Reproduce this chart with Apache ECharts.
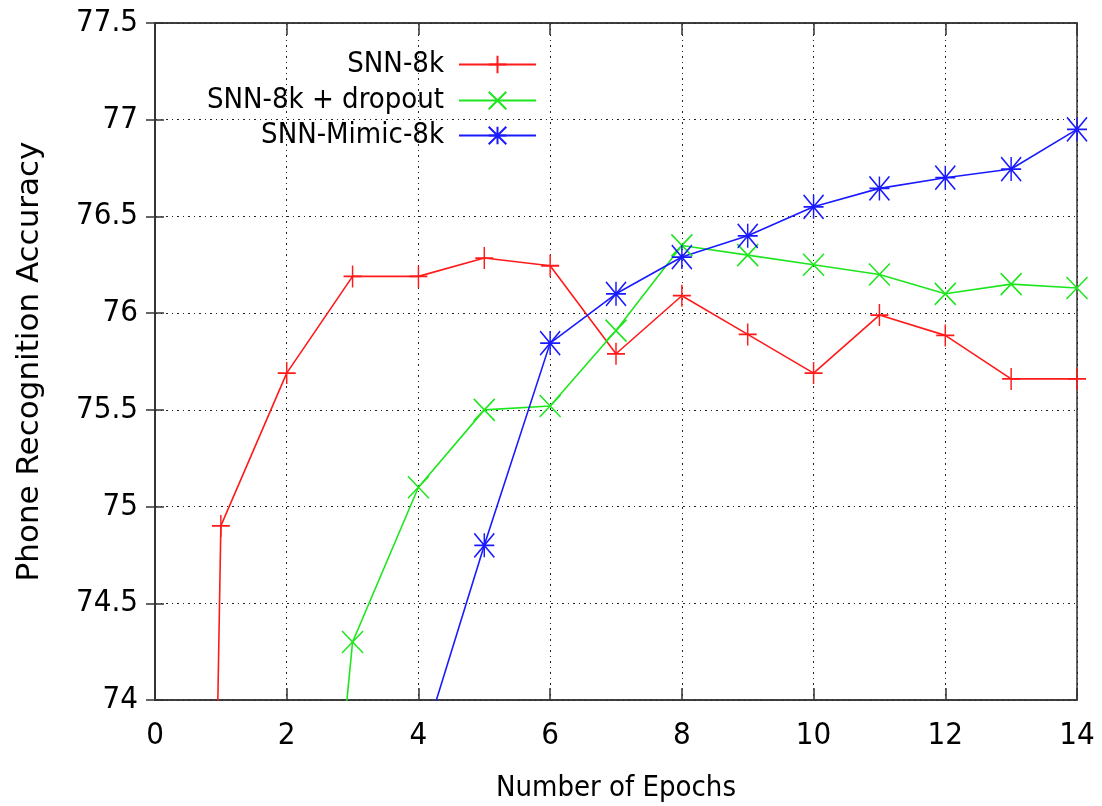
<!DOCTYPE html>
<html>
<head>
<meta charset="utf-8">
<script src="https://cdn.jsdelivr.net/npm/echarts@6/dist/echarts.min.js"></script>
<style>
  html, body { margin: 0; padding: 0; background: #fff; }
  #chart { width: 1102px; height: 806px; }
</style>
</head>
<body>
<div id="chart"></div>
<script>
// epochs on x, accuracy on y
var epochs = [0, 1, 2, 3, 4, 5, 6, 7, 8, 9, 10, 11, 12, 13, 14];
var snn8k = [55.2, 74.9, 75.69, 76.19, 76.19, 76.285, 76.245, 75.79, 76.09, 75.89, 75.69, 75.99, 75.885, 75.66, 75.66];
// dropout run starts at epoch 2, mimic at epoch 4
var dropoutEpochs = [2, 3, 4, 5, 6, 7, 8, 9, 10, 11, 12, 13, 14];
var snn8kDropout = [70.8, 74.3, 75.1, 75.5, 75.52, 75.91, 76.35, 76.3, 76.25, 76.2, 76.1, 76.15, 76.13];
var mimicEpochs = [4, 5, 6, 7, 8, 9, 10, 11, 12, 13, 14];
var snnMimic8k = [73.7, 74.8, 75.845, 76.1, 76.29, 76.4, 76.55, 76.645, 76.7, 76.745, 76.95];
var seriesNames = ['SNN-8k', 'SNN-8k + dropout', 'SNN-Mimic-8k'];

var narrow = '"Liberation Sans Narrow", "DejaVu Sans Condensed", "Liberation Sans", sans-serif';

function pairs(xs, ys) {
    return xs.map(function (x, i) { return [x, ys[i]]; });
}

// gnuplot style point shapes
var plus = 'path://M5,0L5,10M0,5L10,5';
var cross = 'path://M0,0L10,10M10,0L0,10';
var star = 'path://M5,0L5,10M0,5L10,5M0,0L10,10M10,0L0,10';

function makeSeries(name, data, color, symbol, size) {
    return {
        name: name,
        type: 'line',
        data: data,
        symbol: symbol,
        symbolSize: size,
        showSymbol: true,
        clip: true,
        lineStyle: { color: color, width: 1.6 },
        itemStyle: { color: color, borderColor: color, borderWidth: 1.6 },
        emphasis: { disabled: true },
        xAxisIndex: 0,
        yAxisIndex: 0
    };
}

function legendRow(name, top) {
    return {
        data: [name],
        right: 560,
        top: top,
        align: 'right',
        itemWidth: 77,
        itemHeight: 22,
        selectedMode: false,
        textStyle: { fontFamily: narrow, fontSize: 29, color: '#000', padding: [0, 10, 0, 0] }
    };
}

var gridLine = { show: true, lineStyle: { color: '#222', type: [2, 4, 1, 4], width: 1 } };

var myChart = echarts.init(document.getElementById('chart'));

var option = {
    animation: false,
    backgroundColor: '#fff',
    grid: {
        left: 155, right: 25, top: 23, bottom: 106,
        outerBoundsMode: 'none',
        show: true, borderColor: '#333', borderWidth: 1.5
    },
    legend: [
        legendRow(seriesNames[0], 45),
        legendRow(seriesNames[1], 81),
        legendRow(seriesNames[2], 116)
    ],
    xAxis: [{
        type: 'value',
        min: 0, max: 14, interval: 2,
        name: 'Number of Epochs',
        nameLocation: 'middle',
        nameGap: 74,
        nameTextStyle: { fontFamily: narrow, fontSize: 29, color: '#000' },
        axisLine: { show: true, lineStyle: { color: '#333', width: 1.5 } },
        axisTick: { show: true, inside: true, length: 12, lineStyle: { color: '#333', width: 1.5 } },
        axisLabel: { fontFamily: narrow, fontSize: 31, color: '#000', margin: 20 },
        splitLine: gridLine
    }, {
        type: 'value', position: 'top',
        min: 0, max: 14, interval: 2,
        axisLine: { show: true, lineStyle: { color: '#333', width: 1.5 } },
        axisTick: { show: true, inside: true, length: 12, lineStyle: { color: '#333', width: 1.5 } },
        axisLabel: { show: false },
        splitLine: { show: false }
    }],
    yAxis: [{
        type: 'value',
        min: 74, max: 77.5, interval: 0.5,
        name: 'Phone Recognition Accuracy',
        nameLocation: 'middle',
        nameGap: 110,
        nameTextStyle: { fontFamily: 'DejaVu Sans', fontSize: 31, color: '#000' },
        axisLine: { show: true, lineStyle: { color: '#333', width: 1.5 } },
        axisTick: { show: true, inside: true, length: 9, lineStyle: { color: '#333', width: 1.5 } },
        axisLabel: { fontFamily: narrow, fontSize: 31, color: '#000', margin: 17 },
        splitLine: gridLine
    }, {
        type: 'value', position: 'right',
        min: 74, max: 77.5, interval: 0.5,
        axisLine: { show: true, lineStyle: { color: '#333', width: 1.5 } },
        axisTick: { show: true, inside: true, length: 9, lineStyle: { color: '#333', width: 1.5 } },
        axisLabel: { show: false },
        splitLine: { show: false }
    }],
    series: [
        makeSeries(seriesNames[0], pairs(epochs, snn8k), '#ff1a1a', plus, [18, 22]),
        makeSeries(seriesNames[1], pairs(dropoutEpochs, snn8kDropout), '#1ee61e', cross, [21, 22]),
        makeSeries(seriesNames[2], pairs(mimicEpochs, snnMimic8k), '#1a1aff', star, [20, 24])
    ]
};

myChart.setOption(option);
</script>
</body>
</html>
